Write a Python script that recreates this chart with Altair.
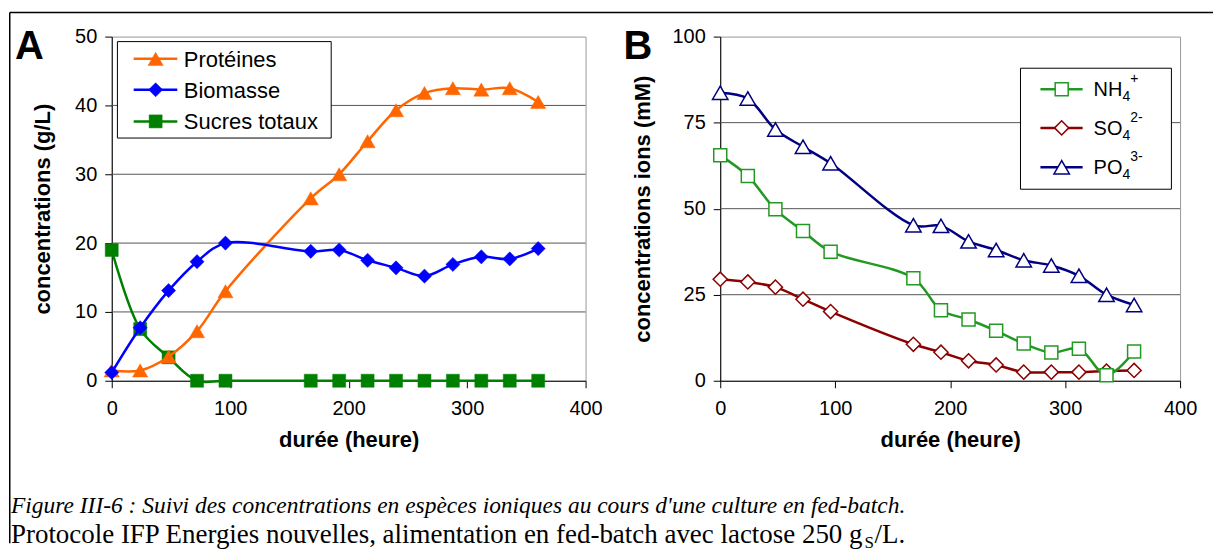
import altair as alt
import pandas as pd

# ---------------- data ----------------
hours = [0, 24, 48, 72, 96, 168, 192, 216, 240, 264, 288, 312, 336, 360]
proteines = [1.5, 1.5, 3.5, 7.2, 13.0, 26.5, 30.0, 34.8, 39.3, 41.8, 42.5, 42.3, 42.5, 40.5]
biomasse = [1.2, 7.7, 13.1, 17.3, 20.0, 18.8, 19.0, 17.5, 16.4, 15.2, 16.9, 18.0, 17.7, 19.2]
sucres = [19.0, 7.5, 3.4, 0, 0, 0, 0, 0, 0, 0, 0, 0, 0, 0]
nh4 = [65.5, 59.5, 49.8, 43.5, 37.5, 29.8, 20.5, 17.8, 14.5, 10.8, 8.2, 9.3, 1.6, 8.5]
so4 = [29.5, 28.7, 27.2, 23.7, 20.1, 10.6, 8.3, 5.8, 4.6, 2.5, 2.5, 2.5, 2.8, 3.0]
po4 = [83.7, 82.0, 73.0, 68.0, 63.2, 45.2, 45.0, 40.5, 38.0, 35.0, 33.5, 30.5, 25.0, 22.0]

x_ticks = [0, 100, 200, 300, 400]
yA_ticks = [0, 10, 20, 30, 40, 50]
yB_ticks = [0, 25, 50, 75, 100]
gridA = [10, 20, 30, 40]
gridB = [25, 50, 75]

labelsA = ["Protéines", "Biomasse", "Sucres totaux"]
ionsB = [("NH", "4", "+"), ("SO", "4", "2-"), ("PO", "4", "3-")]
caption1 = "Figure III-6 : Suivi des concentrations en espèces ioniques au cours d'une culture en fed-batch."
caption2a = "Protocole IFP Energies nouvelles, alimentation en fed-batch avec lactose 250 g"
caption2b = "S"
caption2c = "/L."

SANS = "Liberation Sans"
SERIF = "Liberation Serif"
WA, WB, H = 475, 461, 345

one = pd.DataFrame({"k": [0]})


def df(vals):
    return pd.DataFrame({"h": hours, "v": vals})


def x_enc():
    return alt.X("h:Q", scale=alt.Scale(domain=[0, 400], nice=False, zero=False),
                 axis=alt.Axis(values=x_ticks, title="durée (heure)", grid=False,
                               domainColor="black", tickColor="black", tickSize=7,
                               labelFont=SANS, labelFontSize=20, labelColor="black",
                               labelPadding=11, labelFlush=False, labelOverlap=False,
                               titleFont=SANS, titleFontSize=22, titleFontWeight="bold",
                               titleColor="black", titlePadding=11))


def y_enc(dom, ticks, title, pad):
    return alt.Y("v:Q", scale=alt.Scale(domain=dom, nice=False),
                 axis=alt.Axis(values=ticks, title=title, grid=False,
                               domainColor="black", tickColor="black", tickSize=7,
                               labelFont=SANS, labelFontSize=20, labelColor="black",
                               labelPadding=8, labelFlush=False, labelOverlap=False,
                               titleFont=SANS, titleFontSize=22, titleFontWeight="bold",
                               titleColor="black", titlePadding=pad))


def series(vals, color, shape, size, filled, yenc, sw=2.5):
    base = alt.Chart(df(vals))
    line = base.mark_line(color=color, strokeWidth=sw, interpolate="catmull-rom").encode(x=x_enc(), y=yenc)
    if filled:
        pts = base.mark_point(shape=shape, size=size, filled=True, fill=color, stroke=color,
                              strokeWidth=0.5, opacity=1).encode(x=x_enc(), y=yenc)
    else:
        pts = base.mark_point(shape=shape, size=size, filled=True, fill="white", stroke=color,
                              strokeWidth=1.5, opacity=1).encode(x=x_enc(), y=yenc)
    return [line, pts]


def txt(s, x, y, size, font=SANS, weight="normal", style="normal", color="black", baseline="alphabetic", align="left"):
    return alt.Chart(one).mark_text(text=s, font=font, fontSize=size, fontWeight=weight, fontStyle=style,
                                    color=color, baseline=baseline, align=align).encode(
        x=alt.value(x), y=alt.value(y))


def hrule(x1, x2, y, color="black", sw=1.0):
    return alt.Chart(one).mark_rule(color=color, strokeWidth=sw).encode(
        x=alt.value(x1), x2=alt.value(x2), y=alt.value(y))


def vrule(x, y1, y2, color="black", sw=1.0):
    return alt.Chart(one).mark_rule(color=color, strokeWidth=sw).encode(
        x=alt.value(x), y=alt.value(y1), y2=alt.value(y2))


def box(x1, x2, y1, y2):
    return alt.Chart(one).mark_rect(fill="white", stroke="black", strokeWidth=1).encode(
        x=alt.value(x1), x2=alt.value(x2), y=alt.value(y1), y2=alt.value(y2))


def sym(x, y, shape, size, color, filled):
    return alt.Chart(one).mark_point(shape=shape, size=size, filled=True,
                                     fill=color if filled else "white", stroke=color,
                                     strokeWidth=0.5 if filled else 1.5, opacity=1).encode(
        x=alt.value(x), y=alt.value(y))


# ---------------- panel A ----------------
yA = y_enc([0, 50], yA_ticks, "concentrations (g/L)", 20)
cOr, cBl, cGr = "#FF6600", "#0000FF", "#008000"
layersA = [alt.Chart(pd.DataFrame({"v": gridA})).mark_rule(color="#555555", strokeWidth=1).encode(y=yA)]
layersA += series(sucres, cGr, "square", 170, True, yA)
layersA += series(proteines, cOr, "triangle-up", 230, True, yA)
layersA += series(biomasse, cBl, "diamond", 200, True, yA)

# legend A
layersA.append(box(5.7, 220, 5, 101.7))
legA = [(labelsA[0], cOr, "triangle-up", 230, 22.3), (labelsA[1], cBl, "diamond", 200, 53.3),
        (labelsA[2], cGr, "square", 170, 85.0)]
for lab, col, shp, sz, yy in legA:
    layersA.append(hrule(22, 65.7, yy, col, 2.5))
    layersA.append(sym(44, yy, shp, sz, col, True))
    layersA.append(txt(lab, 72.3, yy + 1, 22, baseline="middle"))

# panel letter
layersA.append(txt("A", -97, 22, 40, weight="bold"))
# frame lines
layersA.append(hrule(-102.25, 1104, -24.25, "black", 1.5))
layersA.append(vrule(-102.25, -24.25, 508, "black", 1.5))
# caption
cap_x = -101
layersA.append(txt(caption1, cap_x, 478, 23.5, font=SERIF, style="italic"))
layersA.append(txt(caption2a, cap_x, 508, 27, font=SERIF))
end2 = cap_x + 31.69 * 27
layersA.append(txt(caption2b, end2, 513, 17, font=SERIF))
layersA.append(txt(caption2c, end2 + 10, 508, 27, font=SERIF))

chartA = alt.layer(*layersA).properties(width=WA, height=H)

# ---------------- panel B ----------------
yB = y_enc([0, 100], yB_ticks, "concentrations ions (mM)", 18)
cNH, cSO, cPO = "#229922", "#8B0000", "#000080"
layersB = [alt.Chart(pd.DataFrame({"v": gridB})).mark_rule(color="#555555", strokeWidth=1).encode(y=yB)]
layersB += series(so4, cSO, "diamond", 200, False, yB)
layersB += series(nh4, cNH, "square", 170, False, yB)
layersB += series(po4, cPO, "triangle-up", 240, False, yB)

layersB.append(box(301, 452.3, 31.7, 153))
legB = [(ionsB[0], cNH, "square", 170, 52.7), (ionsB[1], cSO, "diamond", 200, 91.5),
        (ionsB[2], cPO, "triangle-up", 240, 131.0)]
for (main, sub, sup), col, shp, sz, yy in legB:
    layersB.append(hrule(321, 363.3, yy, col, 2.5))
    layersB.append(sym(342.3, yy, shp, sz, col, False))
    x0 = 374.3
    layersB.append(txt(main, x0, yy + 7, 20))
    wmain = 1.444 * 20
    layersB.append(txt(sub, x0 + wmain, yy + 12, 14))
    layersB.append(txt(sup, x0 + wmain + 7.8, yy - 6, 14))

layersB.append(txt("B", -97, 22, 40, weight="bold"))

chartB = alt.layer(*layersB).properties(width=WB, height=H)

chart = alt.hconcat(chartA, chartB, spacing=135, bounds="flush").properties(
    padding={"left": 0, "top": 2, "right": 0, "bottom": 0},
    background="white",
).configure_view(stroke="#999999", strokeWidth=1)

chart.save("out.html", embed_options={"renderer": "svg", "actions": False})
